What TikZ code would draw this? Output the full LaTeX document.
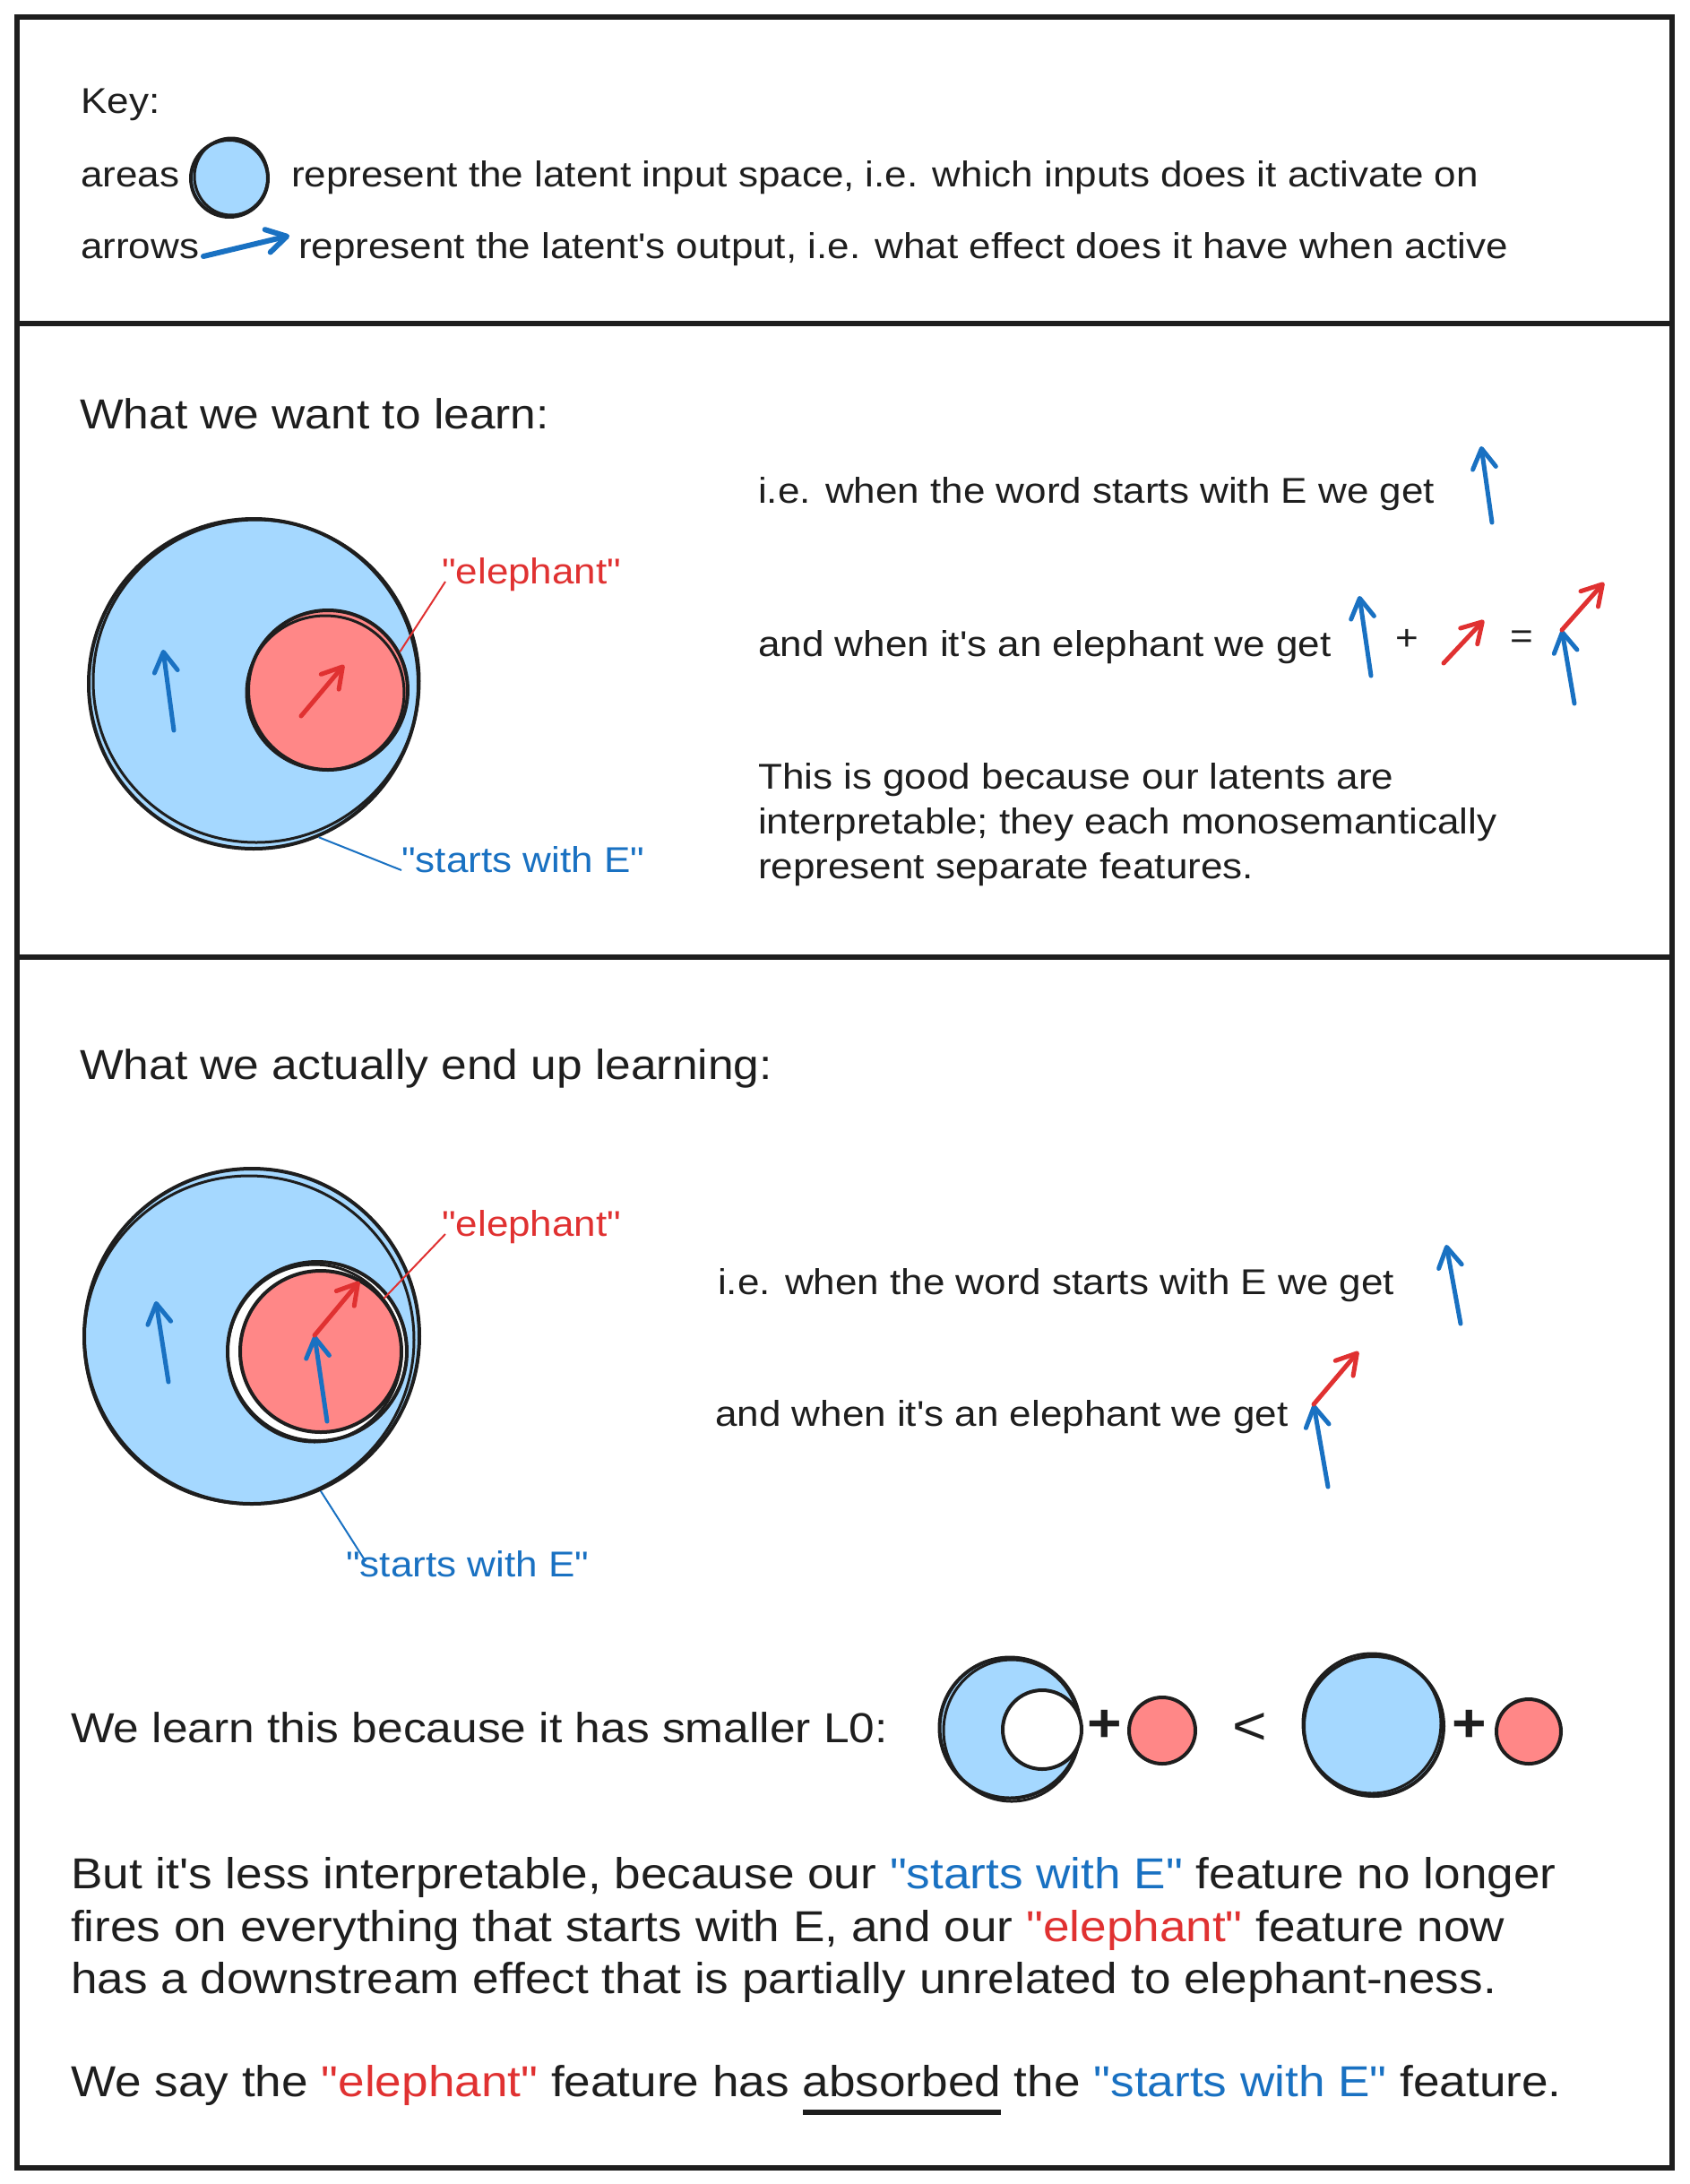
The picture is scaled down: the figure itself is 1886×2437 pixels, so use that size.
\documentclass[tikz,border=0pt]{standalone}
\usepackage{fontspec}
\setmainfont{Liberation Sans}[FakeStretch=1.1, Ligatures=TeXOff]
\usetikzlibrary{arrows.meta}
\definecolor{bfill}{HTML}{A5D8FF}
\definecolor{rfill}{HTML}{FF8787}
\definecolor{bstroke}{HTML}{1971C2}
\definecolor{rstroke}{HTML}{E03131}
\definecolor{ink}{HTML}{1E1E1E}
\newcommand\ulthick[1]{\setbox0\hbox{#1}\rlap{\rule[-0.42em]{\wd0}{0.12em}}\box0\relax}
\begin{document}
\begin{tikzpicture}[x=1pt,y=-1pt,
 basetxt/.style={anchor=west, inner sep=0pt, text height=0.7em, text depth=0.2em, text=ink},
 txt/.style={basetxt, yshift=-12pt, font=\fontsize{40}{48}\selectfont},
 headtxt/.style={basetxt, yshift=-14pt, font=\fontsize{46.8}{56}\selectfont},
 paratxt/.style={basetxt, yshift=-14pt, font=\fontsize{48.3}{58}\selectfont},
 sym/.style={inner sep=0pt, text=ink, font=\fontsize{40}{48}\selectfont},
 bigsym/.style={inner sep=0pt, text=ink, font=\fontsize{60}{60}\bfseries},
 barrow/.style={draw=bstroke, line width=5pt, line cap=round, -{Straight Barb[length=22pt,width=26pt,round]}},
 rarrow/.style={barrow, draw=rstroke},
 area/.style={circle, inner sep=0pt, draw=ink, line width=4pt},
 rough/.style={draw=ink, line width=3pt},
 lead/.style={line width=2pt},
 frame/.style={draw=ink, line width=6pt}]
\path[use as bounding box, fill=white] (0,0) rectangle (1886,2437);
% frame
\draw[frame] (19,19) rectangle (1866,2419);
\draw[frame] (19,361) -- (1866,361);
\draw[frame] (19,1068) -- (1866,1068);

% ---------- key ----------
\node[txt] (key) at (90,112) {Key:};
\node[txt] (areas) at (90,194) {areas};
\node[area, fill=bfill, minimum size=86pt] (keyc) at (256,199) {};
\draw[rough] ([shift={(2,-2)}]keyc.center) ellipse[x radius=41pt, y radius=43pt];
\node[txt] (kt1) at (325,194) {represent the latent input space, i.e. which inputs does it activate on};
\node[txt] (arrows) at (90,274) {arrows};
\coordinate (ka0) at (227,286);
\coordinate (ka1) at (323,263);
\draw[barrow, line width=6pt] (ka0) -- (ka1);
\node[txt] (kt2) at (333,274) {represent the latent's output, i.e. what effect does it have when active};

% ---------- what we want ----------
\node[headtxt] (h2) at (89,462) {What we want to learn:};
\node[area, fill=bfill, minimum size=368pt] (big1) at (283,763) {};
\draw[rough] ([shift={(3,-3)}]big1.center) ellipse[x radius=182pt, y radius=180pt];
\node[area, fill=rfill, minimum size=178pt] (red1) at (366,770) {};
\draw[rough] ([shift={(-3,3)}]red1.center) ellipse[x radius=88pt, y radius=86pt];
\draw[barrow] (194,815) -- (182,725);
\draw[rarrow] (336,799) -- (384,742);
\node[txt, text=rstroke] (ele1) at (493,637) {"elephant"};
\draw[lead, rstroke] (red1.28) -- ([xshift=4pt]ele1.west);
\node[txt, text=bstroke] (sw1) at (448,959) {"starts with E"};
\draw[lead, bstroke] (big1.-67) -- (sw1.west);

\node[txt] (r1) at (846,547) {i.e. when the word starts with E we get};
\draw[barrow] (1665,583) -- (1653,498);
\node[txt] (r2) at (846,718) {and when it's an elephant we get};
\draw[barrow] (1530,754) -- (1517,665);
\node[sym] (plus1) at (1570,714) {+};
\draw[rarrow] (1611,740) -- (1656,692);
\node[sym] (eq1) at (1698,714) {=};
\coordinate (j1) at (1743,703);
\draw[barrow] (1757,785) -- (j1);
\draw[rarrow] (j1) -- (1790,650);

\node[txt] (p1) at (846,866) {This is good because our latents are};
\node[txt] (p2) at (846,916) {interpretable; they each monosemantically};
\node[txt] (p3) at (846,966) {represent separate features.};

% ---------- what we actually learn ----------
\node[headtxt] (h3) at (89,1188) {What we actually end up learning:};
\node[area, fill=bfill, minimum size=374pt] (big2) at (281,1491) {};
\draw[rough] ([shift={(-3,4)}]big2.center) ellipse[x radius=184pt, y radius=183pt];
\node[area, fill=white, minimum size=200pt] (ring2) at (354,1508) {};
\draw[rough] ([shift={(-3,2)}]ring2.center) ellipse[x radius=97pt, y radius=99pt];
\node[area, fill=rfill, minimum size=180pt] (red2) at (358,1508) {};
\draw[barrow] (188,1542) -- (174,1452);
\coordinate (j2) at (351,1490);
\draw[barrow] (365,1586) -- (j2);
\draw[rarrow] (j2) -- (401,1430);
\node[txt, text=rstroke] (ele2) at (493,1365) {"elephant"};
\draw[lead, rstroke] (red2.40) -- ([xshift=4pt]ele2.west);
\node[txt, text=bstroke] (sw2) at (386,1745) {"starts with E"};
\draw[lead, bstroke] (big2.-66) -- ([xshift=22pt,yshift=10pt]sw2.north west);

\node[txt] (r3) at (801,1430) {i.e. when the word starts with E we get};
\draw[barrow] (1630,1477) -- (1614,1389);
\node[txt] (r4) at (798,1577) {and when it's an elephant we get};
\coordinate (j3) at (1466,1567);
\draw[barrow] (1482,1659) -- (j3);
\draw[rarrow] (j3) -- (1516,1508);

% ---------- L0 comparison ----------
\node[headtxt] (l0) at (79,1928) {We learn this because it has smaller L0:};
\node[area, fill=bfill, minimum size=157pt] (ca) at (1127,1928) {};
\draw[rough] ([shift={(2,3)}]ca.center) ellipse[x radius=76pt, y radius=79pt];
\node[area, fill=white, minimum size=88pt] (hole) at (1163,1930) {};
\node[bigsym] (plusa) at (1233,1926) {+};
\node[area, fill=rfill, minimum size=74pt] (rda) at (1297,1931) {};
\node[sym, font=\fontsize{60}{60}\selectfont] (lt) at (1395,1929) {<};
\node[area, fill=bfill, minimum size=156pt] (cb) at (1533,1926) {};
\draw[rough] ([shift={(-2,-3)}]cb.center) ellipse[x radius=77pt, y radius=78pt];
\node[bigsym] (plusb) at (1640,1926) {+};
\node[area, fill=rfill, minimum size=72pt] (rdb) at (1706,1932) {};

% ---------- conclusion ----------
\node[paratxt] (c1) at (79,2091) {But it's less interpretable, because our \textcolor{bstroke}{"starts with E"} feature no longer};
\node[paratxt] (c2) at (79,2150) {fires on everything that starts with E, and our \textcolor{rstroke}{"elephant"} feature now};
\node[paratxt] (c3) at (79,2208) {has a downstream effect that is partially unrelated to elephant-ness.};
\node[paratxt] (c4) at (79,2323) {We say the \textcolor{rstroke}{"elephant"} feature has \ulthick{absorbed} the \textcolor{bstroke}{"starts with E"} feature.};
\end{tikzpicture}
\end{document}
